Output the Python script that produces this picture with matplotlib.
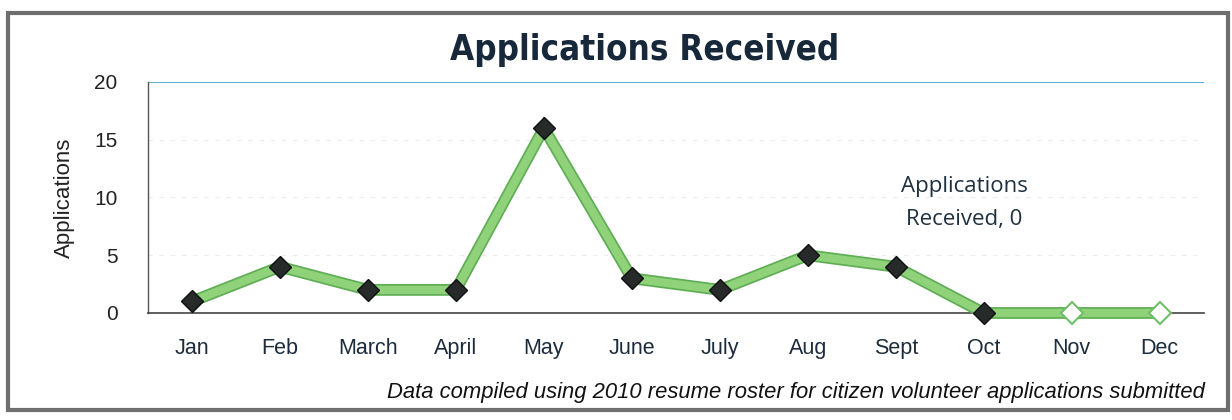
import numpy as np
import matplotlib.pyplot as plt
import matplotlib.patches as patches
import matplotlib.patheffects as pe

months = ["Jan", "Feb", "March", "April", "May", "June", "July", "Aug", "Sept", "Oct", "Nov", "Dec"]
applications = [1, 4, 2, 2, 16, 3, 2, 5, 4, 0, 0, 0]
hollow = [False] * 10 + [True, True]  # Nov, Dec shown as empty markers
y_ticks = [0, 5, 10, 15, 20]

fig = plt.figure(figsize=(12.32, 4.2), dpi=100)
ax = fig.add_axes([0.1201, 0.2548, 0.857, 0.55])

x = np.arange(len(months))
y = np.array(applications)

# thick green line with darker edge
ax.plot(x, y, color="#8fd27a", linewidth=6, solid_joinstyle="miter", zorder=3, clip_on=False,
        path_effects=[pe.Stroke(linewidth=8.5, foreground="#5fae55"), pe.Normal()])

for xi, yi, h in zip(x, y, hollow):
    if h:
        ax.plot(xi, yi, marker="D", markersize=11, markerfacecolor="white",
                markeredgecolor="#6fbf68", markeredgewidth=1.5, zorder=4, clip_on=False)
    else:
        ax.plot(xi, yi, marker="D", markersize=11, markerfacecolor="#262a28",
                markeredgecolor="#111111", markeredgewidth=1, zorder=4, clip_on=False)

ax.set_xlim(-0.5, len(months) - 0.5)
ax.set_ylim(0, 20)
ax.set_xticks(x)
ax.set_xticklabels(months, fontsize=15.5, color="#1c2c3c", family="Liberation Sans")
ax.set_yticks(y_ticks)
ax.set_yticklabels([str(t) for t in y_ticks], fontsize=15, color="#222222", family="Liberation Sans")
ax.tick_params(axis="x", length=0, pad=18)
ax.tick_params(axis="y", length=0, pad=22)

# gridlines
ax.axhline(20, color="#3a9fd6", linewidth=1.2, zorder=1)
for g in [5, 10, 15]:
    ax.axhline(g, color="#ececec", linewidth=0.8, linestyle=(0, (4, 6)), zorder=1)

for s in ["top", "right"]:
    ax.spines[s].set_visible(False)
ax.spines["left"].set_color("#555555")
ax.spines["left"].set_linewidth(1)
ax.spines["bottom"].set_color("#444444")
ax.spines["bottom"].set_linewidth(1.2)

ax.set_ylabel("Applications", fontsize=16, color="#222222", family="Liberation Sans", labelpad=14)

# data label
ax.text(8.78, 9.5, "Applications\nReceived, 0", ha="center", va="center", fontsize=16,
        color="#1f3140", family="Open Sans", linespacing=1.75)

fig.text(0.5235, 0.88, "Applications Received", ha="center", va="center", fontsize=25,
         fontweight="bold", fontstretch="condensed", color="#16283a", family="DejaVu Sans")

fig.text(0.978, 0.066, "Data compiled using 2010 resume roster for citizen volunteer applications submitted",
         ha="right", va="center", fontsize=15.8, style="italic", color="#111111", family="Liberation Sans")

# outer frame
fig.add_artist(patches.Rectangle((0.0065, 0.024), 0.99, 0.945, transform=fig.transFigure,
                                 fill=False, edgecolor="#6e6e6e", linewidth=3))

fig.savefig("out.png", dpi=100)
